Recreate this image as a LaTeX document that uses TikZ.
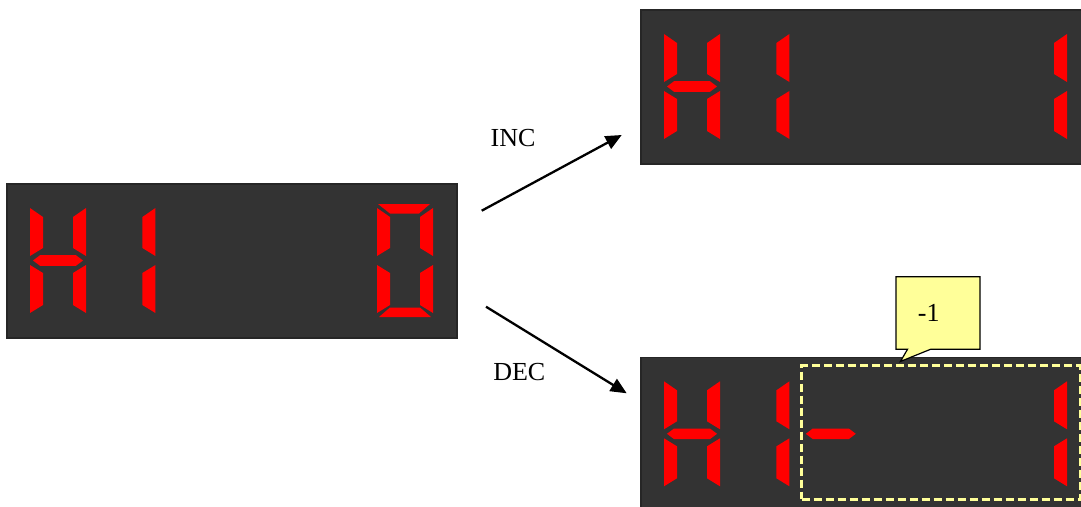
\documentclass[tikz,border=0pt]{standalone}
\usepackage{fontspec}
\setmainfont{Liberation Serif}
\usetikzlibrary{arrows.meta,shapes.callouts,calc}

\definecolor{panel}{HTML}{333333}
\definecolor{segred}{HTML}{FF0000}
\definecolor{note}{HTML}{FFFF99}
\definecolor{hilite}{HTML}{FFFF99}

\tikzset{
  display/.style={draw=black!85, line width=1.2pt, fill=panel,
    minimum width=450pt, minimum height=154pt, inner sep=0pt},
  seg/.style={fill=segred},
  flow/.style={line width=2.3pt, -{Triangle[length=16pt,width=14pt]}},
  lbl/.style={font=\fontsize{26}{30}\selectfont, inner sep=0pt},
  marked/.style={draw=hilite, line width=2.5pt, dash pattern=on 8pt off 4pt,
    minimum width=278.3pt, minimum height=133.6pt, inner sep=0pt},
}

% seven-segment pieces, local frame: origin top-left, y downwards
\newcommand\segA{\fill[seg] (1,0)--(53,0)--(42,9.5)--(13,9.5)--cycle;}
\newcommand\segB{\fill[seg] (56,4)--(56,52)--(43,44)--(43,13)--cycle;}
\newcommand\segC{\fill[seg] (56,61)--(56,109)--(43,101)--(43,69)--cycle;}
\newcommand\segD{\fill[seg] (2,113)--(54,113)--(43,103.5)--(13,103.5)--cycle;}
\newcommand\segE{\fill[seg] (0,61)--(0,109)--(13,101)--(13,69)--cycle;}
\newcommand\segF{\fill[seg] (0,4)--(0,52)--(13,44)--(13,13)--cycle;}
\newcommand\segG{\fill[seg] (3,56.5)--(10,51.2)--(46,51.2)--(53,56.5)--(46,61.8)--(10,61.8)--cycle;}

% #1 = digit index (0..5), #2 = list of lit segments
\newcommand\sevenseg[2]{%
  \begin{scope}[shift={(30+69.4*#1,204)}]
    \foreach \s in {#2} {\csname seg\s\endcsname}
  \end{scope}}

\begin{document}
\begin{tikzpicture}[x=1pt,y=-1pt]
  \useasboundingbox (0,0) rectangle (1081,506);
  \clip (0,0) rectangle (1081,506);

  % current value
  \node[display] (cur) at (232,261) {};
  \sevenseg{0}{F,B,G,E,C}
  \sevenseg{1}{B,C}
  \sevenseg{5}{A,B,C,D,E,F}

  % after INC
  \node[display] (up) at (866,87) {};
  \begin{scope}[shift={(634,-174)}]
    \sevenseg{0}{F,B,G,E,C}
    \sevenseg{1}{B,C}
    \sevenseg{5}{B,C}
  \end{scope}

  % after DEC
  \node[display] (down) at (866,434.3) {};
  \begin{scope}[shift={(634,173.3)}]
    \sevenseg{0}{F,B,G,E,C}
    \sevenseg{1}{B,C}
    \sevenseg{2}{G}
    \sevenseg{5}{B,C}
  \end{scope}

  % highlighted value field and its note
  \node[marked] (hl) at (940.85,432.5) {};
  \node[rectangle callout, draw=black, line width=1.2pt, fill=note,
        callout absolute pointer={($(hl.north west)+(100,-3)$)},
        callout pointer width=23pt,
        minimum width=84pt, minimum height=72.6pt,
        text width=40.3pt, inner xsep=21.85pt, align=left,
        font=\fontsize{26}{30}\selectfont] (tip) at (938,313) {-1};

  % transitions
  \coordinate (incfrom) at (481.7,210.7);
  \coordinate (incto) at (621.7,135);
  \coordinate (decfrom) at (486,306.7);
  \coordinate (decto) at (626.7,393.3);
  \draw[flow] (incfrom) -- (incto);
  \draw[flow] (decfrom) -- (decto);

  \node[lbl, anchor=base] (inclbl) at (513,146) {INC};
  \node[lbl, anchor=base] (declbl) at (519.3,380.7) {DEC};
\end{tikzpicture}
\end{document}
